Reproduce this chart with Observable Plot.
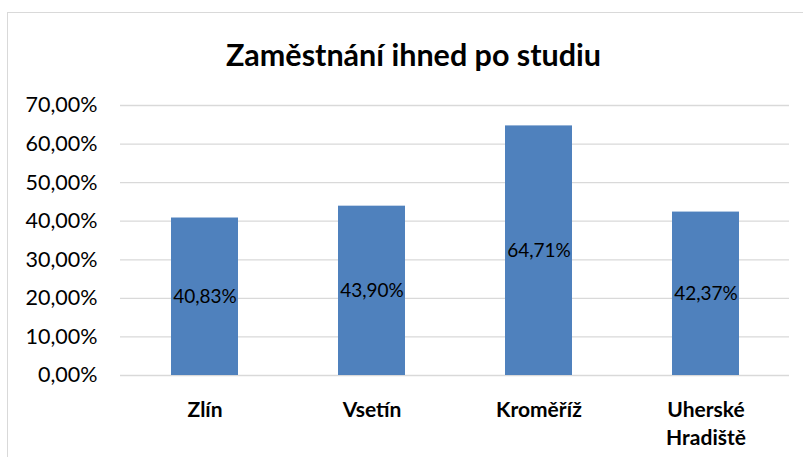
<!DOCTYPE html>
<html>
<head>
<meta charset="utf-8">
<script src="https://cdn.jsdelivr.net/npm/d3@7"></script>
<script src="https://cdn.jsdelivr.net/npm/@observablehq/plot@0.6"></script>
<style>
  html, body { margin: 0; padding: 0; background: white; overflow: hidden; }
  #wrap { position: relative; width: 803px; height: 457px; }
  #border { position: absolute; left: 7px; top: 12px; width: 830px; height: 480px; border: 1px solid #d9d9d9; box-sizing: border-box; }
  #chart { position: absolute; left: 0; top: 0; }
</style>
</head>
<body>
<div id="wrap"><div id="border"></div><div id="chart"></div></div>
<script>
const title = "Zaměstnání ihned po studiu";
const categories = ["Zlín", "Vsetín", "Kroměříž", "Uherské Hradiště"];
const values = [0.4083, 0.4390, 0.6471, 0.4237];
const yTicks = [0, 0.1, 0.2, 0.3, 0.4, 0.5, 0.6, 0.7];

const data = categories.map((c, i) => ({ category: c, value: values[i] }));
const fmt = v => (v * 100).toFixed(2).replace(".", ",") + "%";
const catLabel = c => c.replace(" ", "\n");
const font = "Lato, 'Open Sans', sans-serif";

const chart = Plot.plot({
  width: 803,
  height: 457,
  marginLeft: 120,
  marginRight: 14,
  marginTop: 105,
  marginBottom: 82,
  style: { background: "transparent", fontFamily: font, color: "#000", overflow: "visible" },
  x: { domain: categories, paddingInner: 0.6, paddingOuter: 0.3, label: null },
  y: { domain: [0, 0.7], label: null },
  marks: [
    Plot.ruleY(yTicks, { stroke: "#d9d9d9", strokeWidth: 1.3 }),
    Plot.barY(data, { x: "category", y: "value", fill: "#4F81BD" }),
    Plot.text(data, { x: "category", y: d => d.value / 2, text: d => fmt(d.value), fill: "#000", fontSize: 19 }),
    Plot.axisY({ ticks: yTicks, tickFormat: fmt, tickSize: 0, tickPadding: 23, fontSize: 21.5, label: null, fill: "#000" }),
    Plot.axisX({ tickFormat: catLabel, tickSize: 0, tickPadding: 22, fontSize: 21, fontWeight: "bold", lineHeight: 1.33, label: null, fill: "#000" }),
    Plot.text([title], { frameAnchor: "top-left", dx: 293, dy: -40, textAnchor: "middle", lineAnchor: "bottom", fontSize: 30.5, fontWeight: "bold", fill: "#000" })
  ]
});
document.getElementById("chart").appendChild(chart);
</script>
</body>
</html>
